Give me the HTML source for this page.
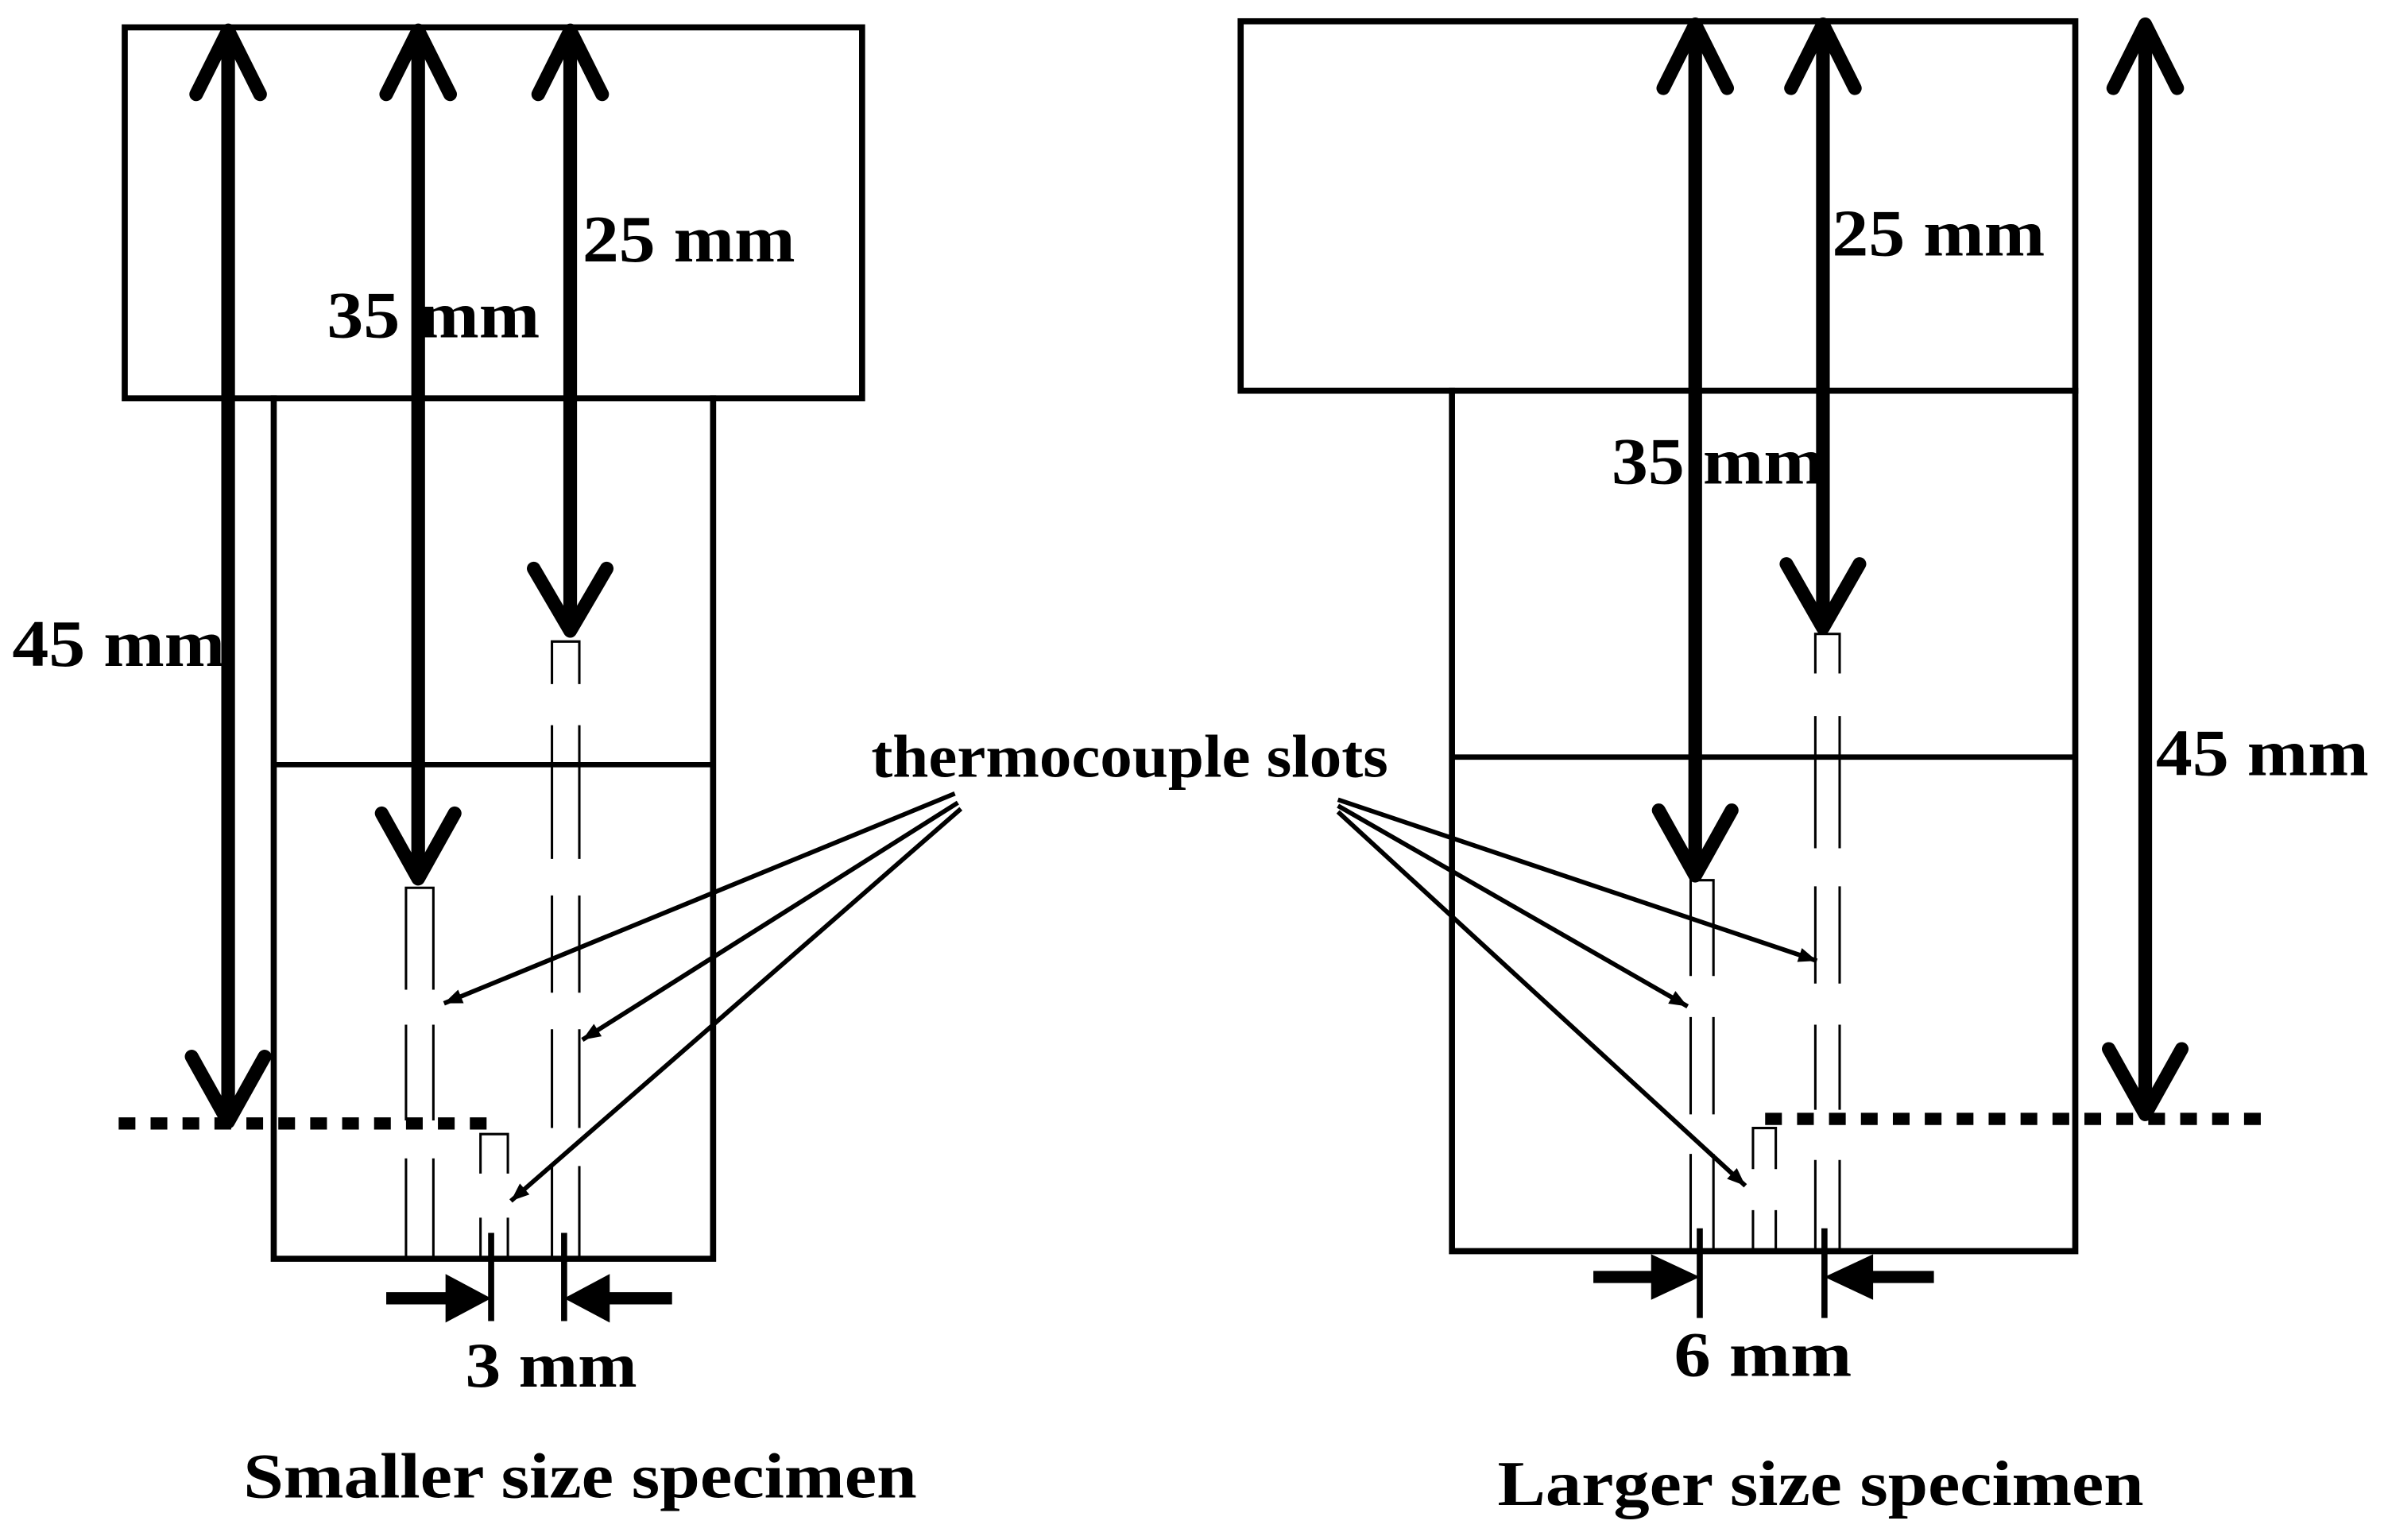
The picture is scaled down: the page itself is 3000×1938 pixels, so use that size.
<!DOCTYPE html>
<html><head><meta charset="utf-8"><style>
html,body{margin:0;padding:0;background:#fff;}
svg{display:block;}
text{font-family:"Liberation Serif",serif;font-weight:bold;fill:#000;}
</style></head><body>
<svg width="3000" height="1938" viewBox="0 0 1568 1013" xmlns="http://www.w3.org/2000/svg">
<defs>
<marker id="sa" viewBox="0 0 10 10" refX="10" refY="5" markerWidth="20" markerHeight="12" orient="auto" markerUnits="userSpaceOnUse"><path d="M0,1 L10,5 L0,9 Z"/></marker>
</defs>
<g fill="none" stroke="#000" stroke-linecap="square">
<rect x="82" y="18" width="485" height="244" stroke-width="4"/>
<path d="M180 262 V828 H469 V262" stroke-width="4"/>
<line x1="180" y1="503" x2="469" y2="503" stroke-width="3.5"/>
<rect x="816" y="14" width="549" height="243" stroke-width="4"/>
<path d="M955 257 V823 H1365 V257" stroke-width="4"/>
<line x1="955" y1="498" x2="1365" y2="498" stroke-width="3.5"/>
</g>
<g fill="none" stroke="#000" stroke-width="9" stroke-linecap="round" stroke-linejoin="round">
<line x1="150" y1="22" x2="150" y2="736"/><path d="M129 62 L150 20 L171 62"/><path d="M126 695 L150 738 L174 695"/>
<line x1="275" y1="22" x2="275" y2="576"/><path d="M254 62 L275 20 L296 62"/><path d="M251 535 L275 578 L299 535"/>
<line x1="375" y1="22" x2="375" y2="413"/><path d="M354 62 L375 20 L396 62"/><path d="M351 374 L375 415 L399 374"/>
<line x1="1115" y1="18" x2="1115" y2="574"/><path d="M1094 58 L1115 16 L1136 58"/><path d="M1091 533 L1115 576 L1139 533"/>
<line x1="1199" y1="18" x2="1199" y2="411"/><path d="M1178 58 L1199 16 L1220 58"/><path d="M1175 371 L1199 413 L1223 371"/>
<line x1="1411" y1="18" x2="1411" y2="731"/><path d="M1390 58 L1411 16 L1432 58"/><path d="M1387 690 L1411 733 L1435 690"/>
</g>
<g fill="none" stroke="#000" stroke-width="1.6">
<path d="M267 828 V762 M267 737 V674 M267 651 V584 H285 V651 M285 674 V737 M285 762 V828"/>
<path d="M363 828 V767 M363 742 V677 M363 653 V589 M363 565 V477 M363 450 V422 H381 V450 M381 477 V565 M381 589 V653 M381 677 V742 M381 767 V828"/>
<path d="M316 828 V801 M316 772 V746 H334 V772 M334 801 V828"/>
<path d="M1112 823 V759 M1112 733 V669 M1112 642 V579 H1127 V642 M1127 669 V733 M1127 759 V823"/>
<path d="M1194 823 V763 M1194 730 V674 M1194 647 V583 M1194 558 V471 M1194 443 V417 H1210 V443 M1210 471 V558 M1210 583 V647 M1210 674 V730 M1210 763 V823"/>
<path d="M1153 823 V796 M1153 769 V742 H1168 V769 M1168 796 V823"/>
</g>
<line x1="78" y1="739" x2="322" y2="739" stroke="#000" stroke-width="8" stroke-dasharray="11 10"/>
<line x1="1161" y1="736" x2="1495" y2="736" stroke="#000" stroke-width="8" stroke-dasharray="11 10"/>
<g stroke="#000" stroke-width="4">
<line x1="323" y1="811" x2="323" y2="869"/><line x1="371" y1="811" x2="371" y2="869"/>
<line x1="254" y1="854" x2="300" y2="854" stroke-width="8"/>
<line x1="442" y1="854" x2="394" y2="854" stroke-width="8"/>
<line x1="1118" y1="808" x2="1118" y2="867"/><line x1="1200" y1="808" x2="1200" y2="867"/>
<line x1="1048" y1="840" x2="1095" y2="840" stroke-width="8"/>
<line x1="1272" y1="840" x2="1223" y2="840" stroke-width="8"/>
</g>
<g fill="#000">
<path d="M293 838 L323 854 L293 870 Z"/><path d="M401 838 L371 854 L401 870 Z"/>
<path d="M1086 825 L1118 840 L1086 855 Z"/><path d="M1232 825 L1200 840 L1232 855 Z"/>
</g>
<g stroke="#000" stroke-width="3" fill="none" marker-end="url(#sa)">
<line x1="628" y1="522" x2="292" y2="660"/>
<line x1="630" y1="528" x2="383" y2="684"/>
<line x1="632" y1="532" x2="336" y2="790"/>
<line x1="880" y1="526" x2="1195" y2="632"/>
<line x1="880" y1="530" x2="1110" y2="662"/>
<line x1="880" y1="534" x2="1148" y2="780"/>
</g>
<text x="383" y="172" font-size="44" textLength="140" lengthAdjust="spacingAndGlyphs">25 mm</text>
<text x="215" y="222" font-size="44" textLength="140" lengthAdjust="spacingAndGlyphs">35 mm</text>
<text x="8" y="438" font-size="44" textLength="140" lengthAdjust="spacingAndGlyphs">45 mm</text>
<text x="1205" y="168" font-size="44" textLength="140" lengthAdjust="spacingAndGlyphs">25 mm</text>
<text x="1060" y="318" font-size="44" textLength="140" lengthAdjust="spacingAndGlyphs">35 mm</text>
<text x="1418" y="510" font-size="44" textLength="140" lengthAdjust="spacingAndGlyphs">45 mm</text>
<text x="573" y="511" font-size="40" textLength="340" lengthAdjust="spacingAndGlyphs">thermocouple slots</text>
<text x="306" y="912" font-size="42" textLength="113" lengthAdjust="spacingAndGlyphs">3 mm</text>
<text x="1101" y="905" font-size="42" textLength="117" lengthAdjust="spacingAndGlyphs">6 mm</text>
<text x="160" y="985" font-size="42" textLength="443" lengthAdjust="spacingAndGlyphs">Smaller size specimen</text>
<text x="985" y="990" font-size="42" textLength="425" lengthAdjust="spacingAndGlyphs">Larger size specimen</text>
</svg>
</body></html>
